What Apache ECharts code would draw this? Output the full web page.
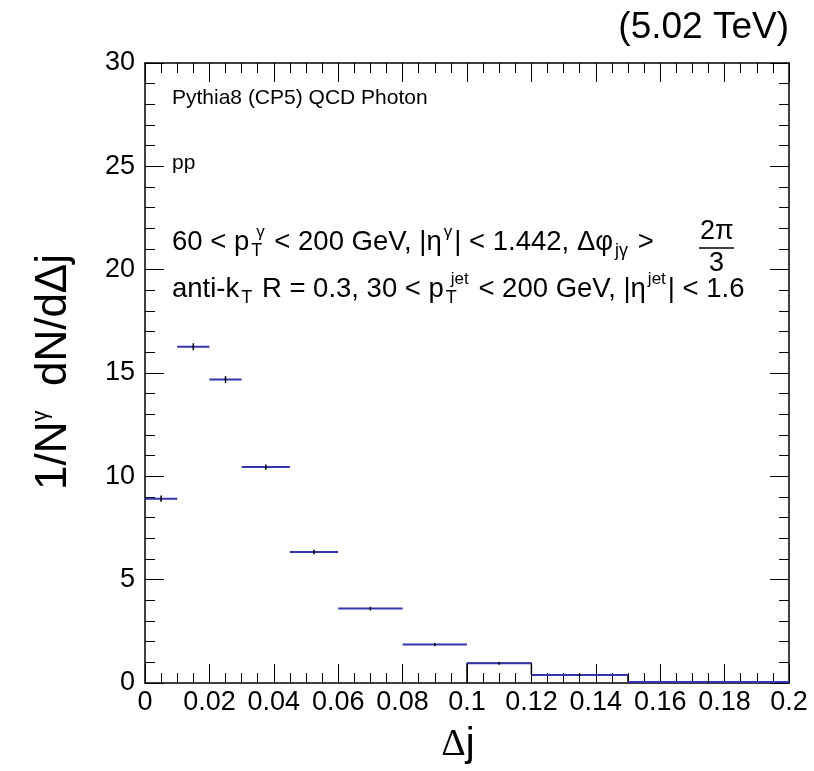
<!DOCTYPE html>
<html><head><meta charset="utf-8">
<script src="https://cdn.jsdelivr.net/npm/echarts@6/dist/echarts.min.js"></script>
<style>html,body{margin:0;padding:0;background:#fff}#c{width:814px;height:771px}</style>
</head><body><div id="c"></div>
<script>
// ---- data ----
const binLow  = [0, 0.01, 0.02, 0.03, 0.045, 0.06, 0.08, 0.10, 0.12, 0.15];
const binHigh = [0.01, 0.02, 0.03, 0.045, 0.06, 0.08, 0.10, 0.12, 0.15, 0.20];
const values  = [8.92, 16.27, 14.68, 10.45, 6.34, 3.60, 1.86, 0.95, 0.39, 0.05];
const errors  = [0.10, 0.12, 0.12, 0.08, 0.06, 0.04, 0.03, 0.02, 0.01, 0.005];
const outlineFirstBin = 7;   // black step outline drawn from this bin on
const xMin = 0, xMax = 0.2, xStep = 0.02;
const yMin = 0, yMax = 30, yStep = 5;

const FONT = '"Liberation Sans", Arial, Helvetica, sans-serif';
const SERIF = '"Liberation Serif", "DejaVu Serif", serif';

// step outline points built from the bins
const outline = [[binLow[outlineFirstBin], 0]];
for (let i = outlineFirstBin; i < values.length; i++) {
  outline.push([binLow[i], values[i]]);
  outline.push([binHigh[i], values[i]]);
}
outline.push([binHigh[values.length - 1], 0]);

const barData = binLow.map((lo, i) => [lo, binHigh[i], values[i], errors[i]]);

const chart = echarts.init(document.getElementById('c'));
const fmt = v => String(+(+v).toFixed(3));

function xAx(pos, labels) {
  return {
    type: 'value', position: pos, min: xMin, max: xMax, interval: xStep,
    axisLine: {show: true, onZero: false, lineStyle: {color: '#000', width: 1.5}},
    axisTick: {show: true, inside: true, length: 19, lineStyle: {color: '#000', width: 1}},
    minorTick: {show: true, splitNumber: 4, length: 10, lineStyle: {color: '#000', width: 1}},
    splitLine: {show: false}, minorSplitLine: {show: false},
    axisLabel: {show: labels, formatter: fmt, fontFamily: FONT, fontSize: 27, color: '#000', margin: 6},
  };
}
function yAx(pos, labels) {
  return {
    type: 'value', position: pos, min: yMin, max: yMax, interval: yStep,
    axisLine: {show: true, onZero: false, lineStyle: {color: '#000', width: 1.5}},
    axisTick: {show: true, inside: true, length: 19, lineStyle: {color: '#000', width: 1}},
    minorTick: {show: true, splitNumber: 5, length: 10, lineStyle: {color: '#000', width: 1}},
    splitLine: {show: false}, minorSplitLine: {show: false},
    axisLabel: {show: labels, formatter: fmt, fontFamily: FONT, fontSize: 27, color: '#000', margin: 10},
  };
}

const supS = {fontFamily: FONT, fontSize: 17, color: '#000', padding: [0, 2, 20, 2]};
const subS = {fontFamily: FONT, fontSize: 18, color: '#000', padding: [18, 2, 0, 2]};
const subW = Object.assign({}, subS, {width: 3, padding: [18, 0, 0, 2]});
const nS = {fontFamily: FONT, fontSize: 27.5, color: '#000'};

chart.setOption({
  animation: false,
  grid: {left: 145, right: 25, top: 63, bottom: 88},
  xAxis: [xAx('bottom', true), xAx('top', false)],
  yAxis: [yAx('left', true), yAx('right', false)],
  series: [
    {
      type: 'line', data: outline, symbol: 'none', z: 2,
      lineStyle: {color: '#000', width: 1.5}, xAxisIndex: 0, yAxisIndex: 0
    },
    {
      type: 'custom', data: barData, z: 3, encode: {x: [0, 1], y: 2},
      renderItem: function (params, api) {
        const lo = api.value(0), hi = api.value(1), v = api.value(2), e = api.value(3);
        const p1 = api.coord([lo, v]), p2 = api.coord([hi, v]);
        const m = (lo + hi) / 2;
        const t = api.coord([m, v + e]), b = api.coord([m, v - e]);
        return {type: 'group', children: [
          {type: 'line', shape: {x1: p1[0], y1: p1[1], x2: p2[0], y2: p2[1]},
           style: {stroke: '#3535ad', lineWidth: 2}},
          {type: 'line', shape: {x1: t[0], y1: t[1] - 1, x2: b[0], y2: b[1] + 1},
           style: {stroke: '#000', lineWidth: 1.5}}
        ]};
      }
    }
  ],
  graphic: [
    {type: 'text', right: 25, top: 9, style: {text: '(5.02 TeV)', font: '37px ' + FONT, fill: '#000'}},
    {type: 'text', left: 172, top: 88, style: {text: 'Pythia8 (CP5) QCD Photon', font: '21px ' + FONT, fill: '#000'}},
    {type: 'text', left: 172, top: 153, style: {text: 'pp', font: '21px ' + FONT, fill: '#000'}},
    {type: 'text', left: 172, top: 224, style: {
      text: '{n|60 < p}{w|T}{p|γ}{n| < 200 GeV, |η}{p|γ}{n|| < 1.442, Δφ}{b|jγ}{n| >}',
      rich: {n: nS, p: supS, b: subS, w: subW}}},
    {type: 'text', left: 700, top: 218, style: {text: '2π', font: '27px ' + FONT, fill: '#000'}},
    {type: 'line', shape: {x1: 699, y1: 248, x2: 734, y2: 248}, style: {stroke: '#000', lineWidth: 1.5}},
    {type: 'text', left: 709, top: 250, style: {text: '3', font: '27px ' + FONT, fill: '#000'}},
    {type: 'text', left: 172, top: 271, style: {
      text: '{n|anti-k}{b|T}{n| R = 0.3, 30 < p}{w|T}{p|jet}{n| < 200 GeV, |η}{p|jet}{n|| < 1.6}',
      rich: {n: nS, p: supS, b: subS, w: subW}}},
    {type: 'text', x: 54, y: 372, rotation: Math.PI / 2, style: {
      text: '{a|1/N}{s|γ}{a|  dN/dΔj}', align: 'center', verticalAlign: 'middle',
      rich: {a: {fontFamily: FONT, fontSize: 44, color: '#000'},
             s: {fontFamily: FONT, fontSize: 22, color: '#000', padding: [0, 0, 26, 0]}}}},
    {type: 'text', x: 458, y: 745, style: {
      text: '{d|Δ}{j|j}', align: 'center', verticalAlign: 'middle',
      rich: {d: {fontFamily: SERIF, fontSize: 38, color: '#000'},
             j: {fontFamily: FONT, fontSize: 40, color: '#000'}}}}
  ]
});
</script></body></html>
